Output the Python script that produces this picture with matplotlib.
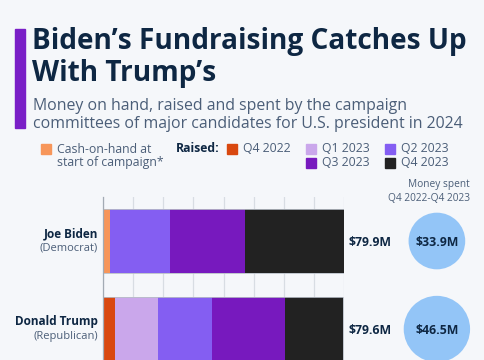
import matplotlib.pyplot as plt
from matplotlib.patches import Rectangle

plt.rcParams['font.family'] = ['Open Sans', 'DejaVu Sans']

# data (million US$)
candidates = ["Joe Biden", "Donald Trump"]
parties = ["(Democrat)", "(Republican)"]
segments = ["Cash-on-hand at\nstart of campaign*", "Q4 2022", "Q1 2023", "Q2 2023", "Q3 2023", "Q4 2023"]
cash_start = [2.3, 0.0]
q4_2022 = [0.0, 3.9]
q1_2023 = [0.0, 14.4]
q2_2023 = [19.9, 17.7]
q3_2023 = [24.8, 24.5]
q4_2023 = [32.9, 19.1]
totals = ["$79.9M", "$79.6M"]
spent = [33.9, 46.5]
spent_labels = ["$33.9M", "$46.5M"]

colors = ["#f7965a", "#d9480f", "#caa7eb", "#845ef2", "#7719be", "#222222"]
bg = "#f5f7fa"
navy = "#0e2743"
grey = "#4b5e78"

W, H = 485, 360
fig = plt.figure(figsize=(W / 100, H / 100), dpi=100, facecolor=bg)


def fx(px):
    return px / W


def fy(py):
    return 1 - py / H


# header
fig.patches.append(Rectangle((fx(15), fy(128)), fx(10), (128 - 29) / H,
                             transform=fig.transFigure, color="#7a1fc7"))
fig.text(fx(32), fy(48.5), "Biden\u2019s Fundraising Catches Up", fontsize=20.2,
         weight="bold", color=navy, va="baseline")
fig.text(fx(32), fy(81.5), "With Trump\u2019s", fontsize=20.2,
         weight="bold", color=navy, va="baseline")
fig.text(fx(33), fy(110), "Money on hand, raised and spent by the campaign",
         fontsize=11.4, color=grey, va="baseline")
fig.text(fx(33), fy(128), "committees of major candidates for U.S. president in 2024",
         fontsize=11.4, color=grey, va="baseline")

# legend
leg = [(41, 143, 0), (227, 149, 1), (306, 149, 2), (385, 149, 3), (306, 163, 4), (385, 163, 5)]
for x, y, i in leg:
    sq_y = 149 if i == 0 else y
    fig.patches.append(Rectangle((fx(x), fy(sq_y + 5)), fx(10), 10 / H,
                                 transform=fig.transFigure, color=colors[i]))
    fig.text(fx(x + 16), fy(y), segments[i], fontsize=8.8, color=grey,
             va="center" if i else "top", linespacing=1.05)
fig.text(fx(176), fy(149), "Raised:", fontsize=8.8, weight="bold", color=navy, va="center")
fig.text(fx(470), fy(185), "Money spent", fontsize=7.3, color=grey, ha="right", va="center")
fig.text(fx(470), fy(198.5), "Q4 2022-Q4 2023", fontsize=7.3, color=grey, ha="right", va="center")

# bars
ax = fig.add_axes([fx(103), 0, (344.3 - 103) / W, (H - 197) / H])
ax.set_facecolor(bg)
y = range(len(candidates))
left = [0.0] * len(candidates)
for vals, c in zip([cash_start, q4_2022, q1_2023, q2_2023, q3_2023, q4_2023], colors):
    ax.barh(y, vals, left=left, height=0.72, color=c, zorder=3)
    left = [a + b for a, b in zip(left, vals)]
ax.barh(y, left, height=0.72, fill=False, edgecolor="#b8bec6", lw=0.6, zorder=4)

ax.set_xlim(0, 80)
ax.set_ylim(1.352, -0.5)
ax.set_xticks(range(0, 81, 10))
ax.grid(axis="x", color="#d8dde3", lw=0.9, zorder=0)
ax.tick_params(length=0, labelbottom=False, labelleft=False)
for s in ["top", "right", "bottom"]:
    ax.spines[s].set_visible(False)
ax.spines["left"].set_color("#a3abb4")
ax.spines["left"].set_linewidth(0.9)
ax.spines["left"].set_zorder(5)

for i in y:
    ax.text(-1.7, i - 0.08, candidates[i], ha="right", va="center", fontsize=8.5,
            weight="bold", color=navy)
    ax.text(-1.7, i + 0.08, parties[i], ha="right", va="center", fontsize=8.0, color=grey)
    ax.text(81.3, i + 0.02, totals[i], ha="left", va="center", fontsize=8.8,
            weight="bold", color=navy)

ax.scatter([110.7] * len(spent), list(y), s=[v * 49.1 for v in spent], color="#93c5f7",
           clip_on=False, zorder=3, lw=0)
for i in y:
    ax.text(110.7, i + 0.02, spent_labels[i], ha="center", va="center", fontsize=8.8,
            weight="bold", color=navy, zorder=4)

fig.savefig("out.png", dpi=100, facecolor=bg)
